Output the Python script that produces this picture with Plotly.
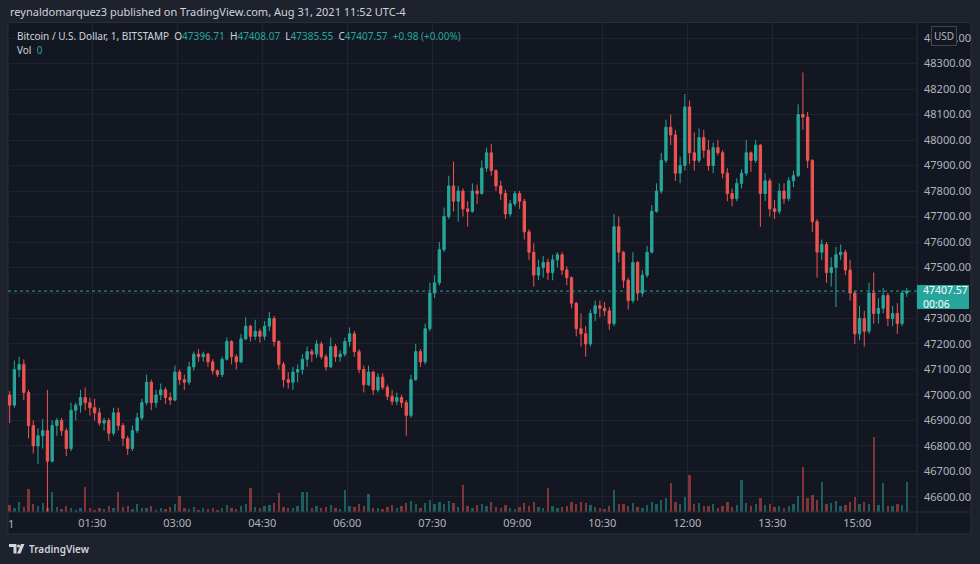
import plotly.graph_objects as go
import pandas as pd

# ---- data (5-minute bars, BTC/USD Bitstamp, Aug 31 2021) ----
first_open = 47000
highs = [47015,47135,47150,47140,47020,46900,46870,46905,47020,46900,
         46910,46910,46870,46970,46970,47020,47030,46990,46985,46950,
         46910,46910,46950,46950,46890,46840,46880,46930,46985,47080,
         47060,47020,47045,47030,47010,47115,47100,47080,47130,47170,
         47180,47170,47165,47140,47100,47150,47225,47215,47160,47240,
         47305,47275,47295,47260,47290,47325,47310,47215,47130,47090,
         47110,47120,47160,47190,47180,47215,47210,47160,47225,47200,
         47175,47225,47265,47250,47180,47115,47115,47095,47085,47085,
         47040,47020,47010,47000,46980,47080,47200,47180,47280,47440,
         47470,47600,47735,47860,47915,47820,47810,47760,47830,47825,
         47920,47970,47985,47885,47840,47805,47765,47800,47800,47770,
         47650,47595,47530,47545,47535,47550,47560,47560,47505,47465,
         47365,47320,47270,47335,47370,47370,47365,47345,47710,47700,
         47565,47460,47560,47525,47490,47585,47745,47830,47950,48080,
         48100,48040,47935,48180,48155,48030,48045,48040,48000,47990,
         48000,47960,47890,47810,47850,47885,48000,47955,48000,47985,
         47870,47850,47765,47830,47830,47855,47880,48140,48265,48110,
         47925,47690,47610,47600,47540,47580,47590,47570,47530,47410,
         47350,47330,47440,47480,47380,47420,47400,47350,47360,47410,
         47420]
lows = [46890,46950,47070,46980,46830,46770,46730,46790,46540,46735,
        46840,46840,46760,46780,46900,46930,46940,46920,46900,46880,
        46860,46820,46840,46860,46800,46765,46780,46850,46900,46960,
        46940,46950,46980,46965,46960,46975,47040,47020,47040,47095,
        47130,47130,47110,47080,47070,47070,47135,47120,47100,47125,
        47215,47210,47215,47205,47215,47250,47190,47100,47030,47025,
        47020,47050,47080,47110,47130,47145,47140,47095,47105,47130,
        47130,47150,47190,47150,47085,47010,47035,47000,47010,47020,
        46980,46960,46960,46950,46840,46910,47055,47110,47120,47250,
        47380,47430,47560,47690,47720,47680,47700,47660,47715,47750,
        47785,47875,47860,47800,47765,47690,47700,47740,47730,47610,
        47530,47425,47450,47460,47450,47450,47500,47470,47430,47340,
        47230,47190,47150,47190,47290,47305,47310,47255,47270,47520,
        47420,47335,47360,47370,47385,47460,47555,47715,47790,47910,
        47980,47840,47830,47880,47905,47880,47910,47930,47880,47870,
        47940,47850,47760,47740,47760,47810,47860,47875,47910,47660,
        47760,47700,47690,47710,47750,47760,47815,47855,48040,47890,
        47640,47460,47530,47440,47425,47345,47530,47470,47370,47200,
        47215,47190,47240,47280,47280,47320,47270,47270,47240,47270,
        47385]
closes = [46960,47100,47120,47010,46880,46800,46840,46860,46740,46880,
          46900,46860,46790,46940,46960,46990,46970,46950,46930,46890,
          46900,46850,46930,46880,46830,46790,46860,46910,46970,47050,
          46970,47000,47020,46990,46980,47090,47060,47050,47110,47160,
          47150,47160,47130,47095,47080,47140,47210,47150,47130,47220,
          47270,47230,47250,47230,47270,47300,47210,47120,47060,47050,
          47090,47100,47140,47170,47160,47200,47150,47110,47190,47150,
          47160,47210,47240,47170,47100,47040,47090,47020,47070,47030,
          46995,46975,46990,46970,46920,47060,47170,47130,47260,47400,
          47440,47570,47700,47820,47760,47800,47730,47720,47800,47790,
          47890,47950,47880,47820,47790,47710,47750,47790,47760,47640,
          47560,47470,47500,47520,47480,47530,47550,47490,47460,47360,
          47260,47240,47200,47320,47350,47340,47330,47280,47660,47560,
          47450,47370,47520,47400,47470,47560,47720,47800,47920,48050,
          48020,47870,47900,48130,47950,47920,48010,47960,47900,47970,
          47950,47870,47790,47770,47830,47870,47950,47920,47980,47790,
          47840,47730,47720,47800,47770,47840,47860,48100,48090,47920,
          47680,47560,47590,47480,47500,47550,47560,47490,47400,47240,
          47300,47250,47400,47320,47340,47390,47300,47320,47280,47400,
          47407.57]
volumes = [1.4,0.9,2.0,1.0,4.6,1.6,1.2,1.8,0.8,4.0,
           1.0,0.6,1.3,0.9,0.5,0.8,5.0,0.9,0.5,0.8,
           0.6,1.2,0.8,4.0,1.0,1.3,0.6,1.6,0.9,0.8,
           1.2,0.5,0.8,0.6,1.0,1.6,3.2,0.9,0.6,1.0,
           0.5,0.8,0.6,0.9,0.4,0.8,1.4,0.9,0.6,1.2,
           1.7,4.8,1.0,0.8,1.2,1.4,1.8,3.8,1.0,0.9,
           0.8,1.2,4.0,4.0,0.8,1.3,0.9,1.0,1.4,0.9,
           0.6,4.4,1.2,1.0,1.6,1.2,3.6,0.8,0.9,0.6,
           1.0,1.4,0.9,1.2,1.8,2.2,1.7,0.9,1.8,2.4,
           1.6,2.0,1.7,2.2,1.8,1.0,5.4,1.2,0.9,1.4,
           1.7,1.3,2.0,1.0,0.9,1.4,0.8,0.6,1.0,1.8,
           1.3,2.1,1.0,0.9,4.8,1.2,0.8,1.0,1.2,2.0,
           1.7,2.1,1.8,1.4,1.0,0.8,0.6,1.2,4.4,1.7,
           1.6,1.2,1.8,1.0,0.9,1.4,2.0,1.7,2.4,2.8,
           5.8,2.0,1.6,3.0,7.4,1.7,1.8,1.3,1.2,1.6,
           0.9,1.3,2.1,1.0,1.4,6.4,1.8,1.2,1.6,2.8,
           1.4,1.7,1.0,1.2,0.9,1.3,1.6,3.2,9.0,2.9,
           3.4,2.5,6.0,1.7,1.8,2.2,1.2,1.4,2.1,3.0,
           1.7,2.0,1.6,15.0,1.4,5.8,1.3,1.2,1.7,1.4,
           6.0]
opens = [first_open] + closes[:-1]
times = pd.date_range("2021-08-31 00:02:30", periods=len(closes), freq="5min")

tick_times = ["2021-08-31 01:30", "2021-08-31 03:00", "2021-08-31 04:30", "2021-08-31 06:00",
              "2021-08-31 07:30", "2021-08-31 09:00", "2021-08-31 10:30", "2021-08-31 12:00",
              "2021-08-31 13:30", "2021-08-31 15:00"]
tick_labels = ["01:30", "03:00", "04:30", "06:00", "07:30", "09:00", "10:30", "12:00", "13:30", "15:00"]
price_ticks = list(range(46600, 48401, 100))
last_price = 47407.57
covered_by_last_label = {47400}

UP = "#26a69a"
DOWN = "#ef5350"
BG = "#131722"
OUTER = "#1e222d"
TXT = "#d1d4dc"
AX = "#b2b5be"
BORDER = "#2a2e39"
FONT = "Noto Sans"

# pixel layout helpers
L, R, T, B = 8, 917, 23, 512
def px(x):
    return (x - L) / (R - L)
def py(y):
    return (B - y) / (B - T)

vol_colors = ["rgba(38,166,154,0.5)" if c >= o else "rgba(239,83,80,0.5)" for o, c in zip(opens, closes)]

fig = go.Figure()
fig.add_trace(go.Bar(x=times, y=volumes, marker_color=vol_colors, marker_line_width=0,
                     width=5 * 60 * 1000 * 0.5, yaxis="y2", hoverinfo="skip"))
fig.add_trace(go.Candlestick(x=times, open=opens, high=highs, low=lows, close=closes,
                             increasing=dict(line=dict(color=UP, width=1), fillcolor=UP),
                             decreasing=dict(line=dict(color=DOWN, width=1), fillcolor=DOWN),
                             whiskerwidth=0, hoverinfo="skip"))

fig.update_layout(
    width=980, height=564,
    margin=dict(l=L, r=980 - R, t=T, b=564 - B),
    paper_bgcolor=OUTER, plot_bgcolor=BG,
    showlegend=False, bargap=0,
    font=dict(family=FONT, size=11, color=AX),
    xaxis=dict(type="date", range=["2021-08-31 00:00:45", "2021-08-31 16:03:20"],
               rangeslider=dict(visible=False), tickvals=tick_times, ticktext=tick_labels,
               showgrid=True, gridcolor="#1f2330", gridwidth=1, zeroline=False,
               showline=False, ticks="", tickfont=dict(size=11, color=AX, family=FONT),
               ticklabelstandoff=3),
    yaxis=dict(side="right", range=[46541, 48459], tickvals=price_ticks,
               ticktext=["" if v in covered_by_last_label else f"{v:.2f}" for v in price_ticks],
               showgrid=True, gridcolor="#1f2330", gridwidth=1, zeroline=False, ticks="",
               tickfont=dict(size=11, color=AX, family=FONT), ticklabelstandoff=6,
               ticklabeloverflow="allow"),
    yaxis2=dict(overlaying="y", range=[0, 97.8], visible=False, showgrid=False),
)

shapes = []
# chart frame
shapes.append(dict(type="rect", xref="paper", yref="paper", x0=px(8), x1=px(971), y0=py(534), y1=py(22.5),
                   fillcolor=BG, line=dict(color=BORDER, width=1), layer="below"))
# price-axis separator and time-axis separator
shapes.append(dict(type="line", xref="paper", yref="paper", x0=px(917), x1=px(917), y0=py(534), y1=py(22.5),
                   line=dict(color=BORDER, width=1)))
shapes.append(dict(type="line", xref="paper", yref="paper", x0=px(8), x1=px(971), y0=py(512), y1=py(512),
                   line=dict(color=BORDER, width=1)))
# last price dotted line
shapes.append(dict(type="line", xref="paper", yref="y", x0=0, x1=1, y0=last_price, y1=last_price,
                   line=dict(color=UP, width=1, dash="dot")))
# last price label box
shapes.append(dict(type="rect", xref="paper", yref="paper", x0=px(917), x1=px(969), y0=py(309), y1=py(285),
                   fillcolor=UP, line=dict(width=0)))
# TradingView logo (approximate)
shapes.append(dict(type="path", xref="paper", yref="paper",
                   path=f"M {px(9)},{py(544)} L {px(16.5)},{py(544)} L {px(16.5)},{py(553.5)} L {px(13.5)},{py(553.5)} "
                        f"L {px(13.5)},{py(547)} L {px(9)},{py(547)} Z",
                   fillcolor=TXT, line=dict(width=0)))
shapes.append(dict(type="circle", xref="paper", yref="paper", x0=px(17), x1=px(20), y0=py(547.5), y1=py(544.5),
                   fillcolor=TXT, line=dict(width=0)))
shapes.append(dict(type="path", xref="paper", yref="paper",
                   path=f"M {px(21)},{py(544)} L {px(24.5)},{py(544)} L {px(20.5)},{py(553.5)} L {px(17)},{py(553.5)} Z",
                   fillcolor=TXT, line=dict(width=0)))
fig.update_layout(shapes=shapes)

NB = "\u00a0"
def kv(k, v):
    return f'<span style="color:{TXT}">{k}</span><span style="color:{UP}">{v}</span>'
legend_text = (f'<span style="color:{TXT}">Bitcoin / U.S. Dollar, 1, BITSTAMP</span>{NB*2}'
               + kv("O", "47396.71") + NB*2 + kv("H", "47408.07") + NB*2 + kv("L", "47385.55") + NB*2
               + kv("C", "47407.57") + NB*2 + f'<span style="color:{UP}">+0.98 (+0.00%)</span>')

ann = [
    dict(text="reynaldomarquez3 published on TradingView.com, Aug 31, 2021 11:52 UTC-4",
         x=px(8), y=py(12), xanchor="left", yanchor="middle", font=dict(size=11, color=TXT)),
    dict(text=legend_text, x=px(15), y=py(36), xanchor="left", yanchor="middle", font=dict(size=10)),
    dict(text=f'<span style="color:{TXT}">Vol</span>{NB*2}<span style="color:{UP}">0</span>',
         x=px(15), y=py(50), xanchor="left", yanchor="middle", font=dict(size=10)),
    # USD badge sits on top of the 48400.00 price label, as in the reference
    dict(text="USD", x=px(944), y=py(35.5), xanchor="center", yanchor="middle",
         font=dict(size=10, color=AX), bgcolor=BG, bordercolor="#434651", borderwidth=1, borderpad=2),
    dict(text="47407.57<br>00:06", x=px(921), y=py(297), xanchor="left", yanchor="middle", align="left",
         font=dict(size=10.5, color="#ffffff")),
    dict(text="1", x=px(10.5), y=py(523), xanchor="center", yanchor="middle", font=dict(size=11, color=AX)),
    dict(text="TradingView", x=px(27), y=py(549), xanchor="left", yanchor="middle",
         font=dict(size=10, color=TXT, weight=600)),
]
for a in ann:
    a.update(xref="paper", yref="paper", showarrow=False)
fig.update_layout(annotations=ann)

fig.write_html("out.html", config={"displayModeBar": False},
               post_script="document.body.style.margin='0px';document.body.style.background='#1e222d';")
